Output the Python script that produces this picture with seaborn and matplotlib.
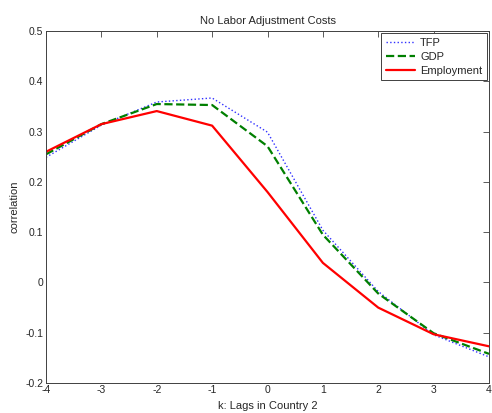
import pandas as pd
import matplotlib
matplotlib.use('Agg')
import matplotlib.pyplot as plt
import seaborn as sns

lags = [-4, -3, -2, -1, 0, 1, 2, 3, 4]
tfp = [0.249, 0.313, 0.359, 0.367, 0.299, 0.104, -0.018, -0.104, -0.148]
gdp = [0.255, 0.315, 0.355, 0.353, 0.271, 0.095, -0.022, -0.101, -0.142]
employment = [0.260, 0.315, 0.341, 0.312, 0.180, 0.039, -0.050, -0.103, -0.127]
series_names = ['TFP', 'GDP', 'Employment']

sns.set_style('white')
plt.rcParams['font.family'] = ['Liberation Sans', 'DejaVu Sans']
plt.rcParams['axes.unicode_minus'] = False

df = pd.DataFrame({'k': lags * 3,
                   'corr': tfp + gdp + employment,
                   'series': [s for s in series_names for _ in lags]})

fig = plt.figure(figsize=(4.92, 4.13), dpi=100)
ax = fig.add_axes([0.0935, 0.0726, 0.9004, 0.852])

styles = {'TFP': ('#3030ff', ':', 1.0),
          'GDP': ('#007f00', '--', 1.6),
          'Employment': ('#ff0000', '-', 1.6)}
for name in series_names:
    col, ls, lw = styles[name]
    sns.lineplot(data=df[df['series'] == name], x='k', y='corr', ax=ax,
                 color=col, linestyle=ls, linewidth=lw, label=name)

ax.set_xlim(-4, 4)
ax.set_ylim(-0.2, 0.5)
ax.set_xticks(range(-4, 5))
ax.set_yticks([-0.2, -0.1, 0, 0.1, 0.2, 0.3, 0.4, 0.5])
ax.set_yticklabels(['-0.2', '-0.1', '0', '0.1', '0.2', '0.3', '0.4', '0.5'])
ax.tick_params(direction='in', top=True, right=True, labelsize=7.5, length=4,
               width=0.6, color='#404040')
ax.tick_params(axis='x', pad=1.5)
ax.tick_params(axis='y', pad=2)
for sp in ax.spines.values():
    sp.set_linewidth(0.7)
    sp.set_color('#404040')

ax.set_title('No Labor Adjustment Costs', fontsize=8, pad=5)
ax.set_xlabel('k: Lags in Country 2', fontsize=8, labelpad=4)
ax.set_ylabel('correlation', fontsize=8, labelpad=4)

leg = ax.legend(loc='upper right', fontsize=8, fancybox=False, framealpha=1,
                edgecolor='#404040', borderaxespad=0.2, handlelength=2.6,
                handletextpad=0.5, borderpad=0.4, labelspacing=0.35)
leg.get_frame().set_linewidth(0.7)

fig.savefig('out.png', dpi=100)
